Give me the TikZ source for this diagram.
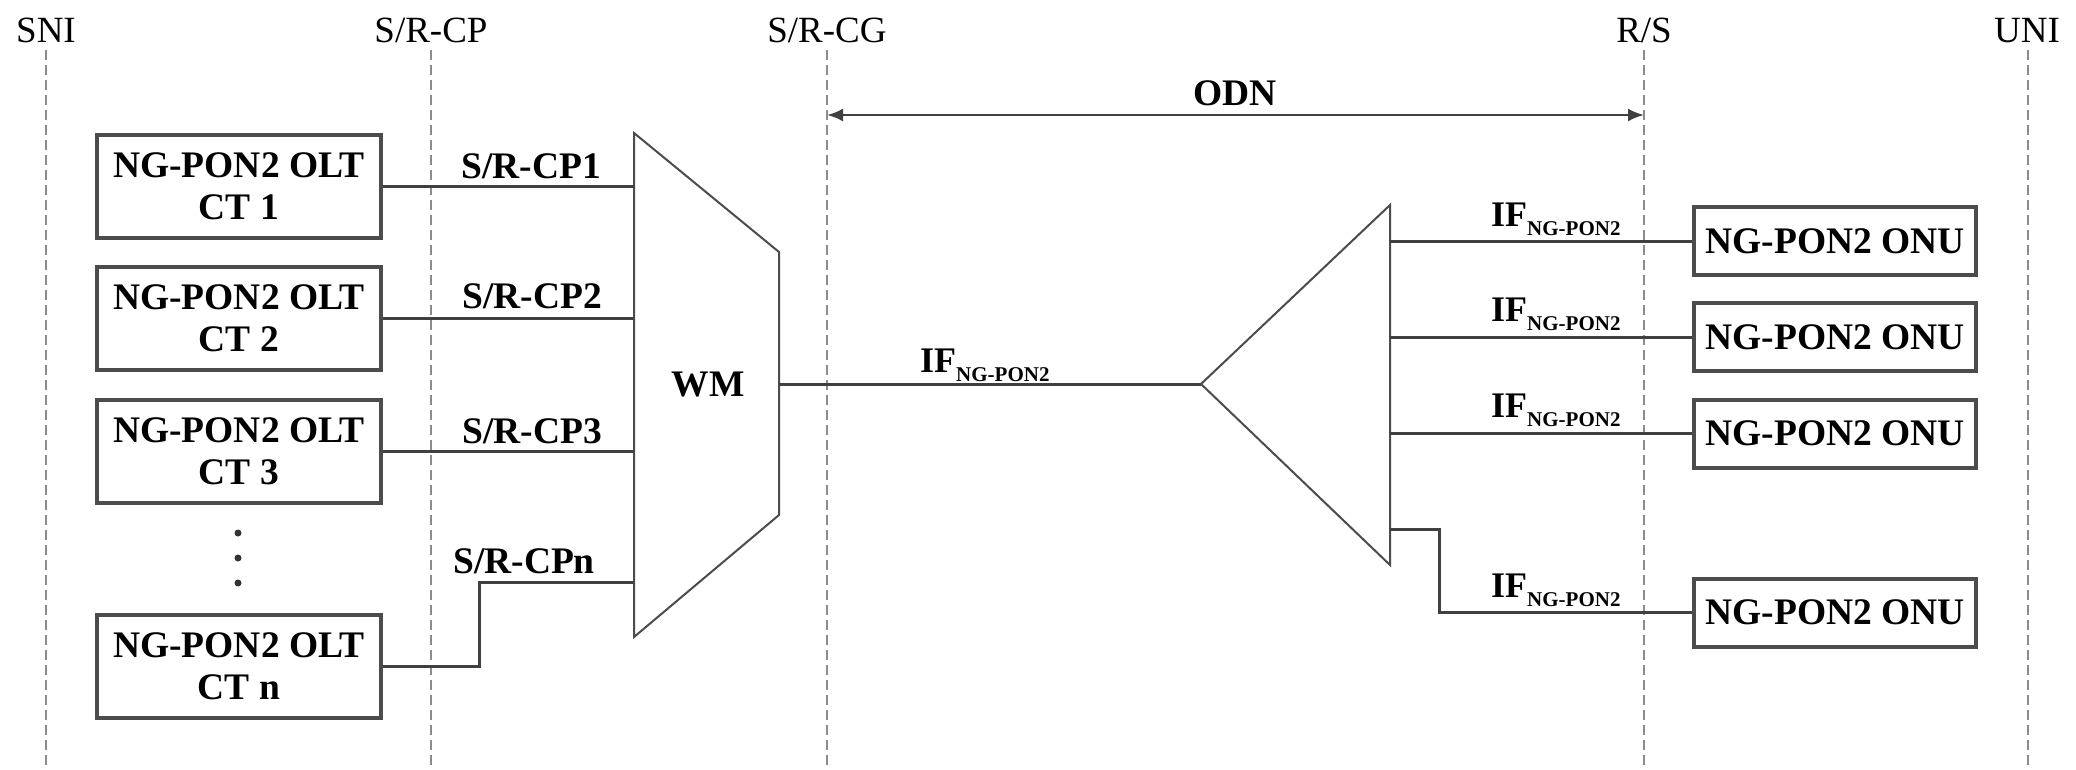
\documentclass[tikz,border=0pt]{standalone}
\usepackage{fontspec}
\setmainfont{Liberation Serif}
\usetikzlibrary{arrows.meta}
\begin{document}
\begin{tikzpicture}[x=1pt,y=-1pt,
  refline/.style={draw=black!45, line width=2.5pt, dash pattern=on 10pt off 5pt},
  reflabel/.style={anchor=base, font=\fontsize{37}{40}\selectfont, inner sep=0pt},
  box/.style={draw=black!70, line width=4pt, minimum width=284pt, minimum height=103pt, align=center, font=\fontsize{37.5}{42}\selectfont\bfseries, inner sep=0pt},
  onubox/.style={box, minimum width=282pt, minimum height=68pt},
  conn/.style={draw=black!75, line width=3pt},
  outline/.style={draw=black!70, line width=2pt, line join=miter},
  cplabel/.style={anchor=base, font=\fontsize{37.5}{40}\selectfont\bfseries, inner sep=0pt},
  iflabel/.style={anchor=base west, inner sep=0pt, font=\fontsize{36}{40}\selectfont\bfseries},
  dotmark/.style={fill=black!80, circle, inner sep=0pt, minimum size=7pt},
]
\useasboundingbox (0,0) rectangle (2076,769);
\fill[white] (0,0) rectangle (2076,769);

% reference lines
\coordinate (sniT) at (46,50);   \coordinate (sniB) at (46,769);
\coordinate (cpT) at (431,50);   \coordinate (cpB) at (431,769);
\coordinate (cgT) at (827,50);   \coordinate (cgB) at (827,769);
\coordinate (rsT) at (1644,50);  \coordinate (rsB) at (1644,769);
\coordinate (uniT) at (2028,50); \coordinate (uniB) at (2028,769);
\draw[refline] (sniT) -- (sniB);
\draw[refline] (cpT) -- (cpB);
\draw[refline] (cgT) -- (cgB);
\draw[refline] (rsT) -- (rsB);
\draw[refline] (uniT) -- (uniB);
\node[reflabel] (lsni) at (46,42) {SNI};
\node[reflabel] (lcp) at (431,42) {S/R-CP};
\node[reflabel] (lcg) at (827,42) {S/R-CG};
\node[reflabel] (lrs) at (1644,42) {R/S};
\node[reflabel] (luni) at (2027,42) {UNI};

% ODN arrow
\coordinate (odnL) at (827,115);
\coordinate (odnR) at (1644,115);
\draw[conn, line width=2.5pt, {Latex[length=16pt,width=13pt]}-{Latex[length=16pt,width=13pt]}] (odnL) -- (odnR);
\node[cplabel] (lodn) at (1235,105) {ODN};

% OLT boxes
\node[box] (olt1) at (239,186.5) {NG-PON2 OLT\\CT 1};
\node[box] (olt2) at (239,318.5) {NG-PON2 OLT\\CT 2};
\node[box] (olt3) at (239,451) {NG-PON2 OLT\\CT 3};
\node[box] (oltn) at (239,666.5) {NG-PON2 OLT\\CT n};
\node[dotmark] (d1) at (238,533) {};
\node[dotmark] (d2) at (238,558) {};
\node[dotmark] (d3) at (238,583) {};

% WM
\coordinate (wmTL) at (634,133);
\coordinate (wmTR) at (779,252);
\coordinate (wmBR) at (779,515);
\coordinate (wmBL) at (634,637);
\draw[outline] (wmTL) -- (wmTR) -- (wmBR) -- (wmBL) -- cycle;
\node[cplabel, anchor=center] (wm) at (708,384) {WM};
\coordinate (wmOut) at (779,384);

% CP connectors
\draw[conn] (olt1.east) -- (olt1.east -| wmTL);
\draw[conn] (olt2.east) -- (olt2.east -| wmTL);
\draw[conn] (olt3.east) -- (olt3.east -| wmTL);
\coordinate (cpnBend) at (479,582);
\draw[conn] (oltn.east) -| (cpnBend) -- (cpnBend -| wmTL);
\node[cplabel] (lcp1) at (531,178) {S/R-CP1};
\node[cplabel] (lcp2) at (532,308) {S/R-CP2};
\node[cplabel] (lcp3) at (532,443) {S/R-CP3};
\node[cplabel] (lcpn) at (524,573) {S/R-CPn};

% splitter
\coordinate (spApex) at (1201,384);
\coordinate (spTop) at (1390,205);
\coordinate (spBot) at (1390,565);
\draw[outline] (spApex) -- (spTop) -- (spBot) -- cycle;
\draw[conn] (wmOut) -- (spApex);
\node[iflabel] (lifm) at (920,372) {IF\raisebox{-9pt}{\fontsize{21}{21}\selectfont NG-PON2}};

% ONU boxes
\node[onubox] (onu1) at (1835,241) {NG-PON2 ONU};
\node[onubox] (onu2) at (1835,337) {NG-PON2 ONU};
\node[onubox] (onu3) at (1835,433.5) {NG-PON2 ONU};
\node[onubox] (onu4) at (1835,612.5) {NG-PON2 ONU};

\draw[conn] (onu1.west -| spTop) -- (onu1.west);
\draw[conn] (onu2.west -| spTop) -- (onu2.west);
\draw[conn] (onu3.west -| spTop) -- (onu3.west);
\coordinate (b4a) at (1390,529);
\coordinate (b4b) at (1439,529);
\draw[conn] (b4a) -- (b4b) |- (onu4.west);

\node[iflabel] (lif1) at (1491,226) {IF\raisebox{-9pt}{\fontsize{21}{21}\selectfont NG-PON2}};
\node[iflabel] (lif2) at (1491,321) {IF\raisebox{-9pt}{\fontsize{21}{21}\selectfont NG-PON2}};
\node[iflabel] (lif3) at (1491,417) {IF\raisebox{-9pt}{\fontsize{21}{21}\selectfont NG-PON2}};
\node[iflabel] (lif4) at (1491,597) {IF\raisebox{-9pt}{\fontsize{21}{21}\selectfont NG-PON2}};
\end{tikzpicture}
\end{document}
